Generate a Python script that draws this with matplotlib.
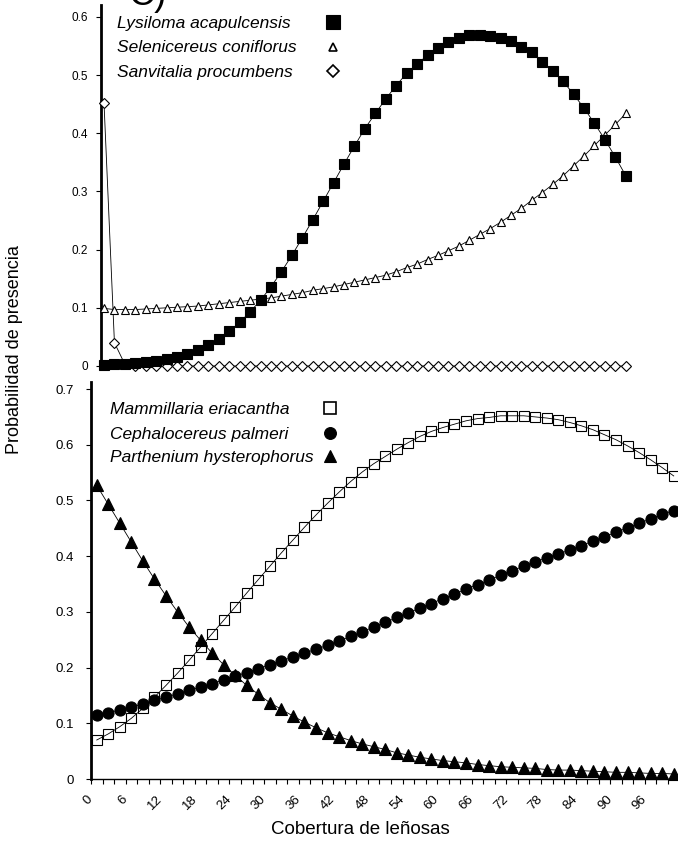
import numpy as np
import matplotlib.pyplot as plt
from matplotlib.lines import Line2D

plt.rcParams['font.family'] = ['Liberation Sans', 'DejaVu Sans']

# woody cover classes (%), one value per class
cobertura = np.arange(0, 101, 2)
x = cobertura + 1  # points sit in the middle of each class

lysiloma = [0.002, 0.003, 0.004, 0.005, 0.007, 0.009, 0.012, 0.016, 0.021, 0.028,
            0.036, 0.047, 0.060, 0.075, 0.093, 0.113, 0.136, 0.162, 0.190, 0.220,
            0.251, 0.283, 0.315, 0.347, 0.378, 0.408, 0.434, 0.459, 0.482, 0.503,
            0.519, 0.534, 0.546, 0.556, 0.563, 0.568, 0.569, 0.567, 0.563, 0.558,
            0.549, 0.539, 0.523, 0.507, 0.489, 0.467, 0.443, 0.417, 0.389, 0.359,
            0.327]
selenicereus = [0.099, 0.097, 0.097, 0.097, 0.098, 0.099, 0.100, 0.101, 0.102, 0.103,
                0.105, 0.107, 0.109, 0.111, 0.113, 0.115, 0.117, 0.120, 0.123, 0.126,
                0.130, 0.133, 0.136, 0.140, 0.144, 0.148, 0.152, 0.156, 0.162, 0.169,
                0.175, 0.183, 0.190, 0.198, 0.206, 0.216, 0.226, 0.236, 0.247, 0.259,
                0.271, 0.285, 0.298, 0.312, 0.327, 0.344, 0.361, 0.379, 0.397, 0.415,
                0.434]
sanvitalia = [0.452, 0.040, 0.003] + [0.0] * 48

mammillaria = [0.070, 0.081, 0.094, 0.109, 0.127, 0.147, 0.168, 0.190, 0.213, 0.237,
               0.261, 0.285, 0.309, 0.334, 0.358, 0.382, 0.406, 0.429, 0.452, 0.474,
               0.495, 0.515, 0.534, 0.551, 0.566, 0.579, 0.592, 0.604, 0.615, 0.624,
               0.631, 0.637, 0.643, 0.647, 0.649, 0.652, 0.652, 0.652, 0.650, 0.648,
               0.645, 0.640, 0.634, 0.627, 0.618, 0.609, 0.598, 0.586, 0.573, 0.559,
               0.544]
cephalocereus = [0.114, 0.119, 0.124, 0.129, 0.135, 0.141, 0.147, 0.153, 0.159, 0.165,
                 0.171, 0.178, 0.185, 0.191, 0.198, 0.205, 0.212, 0.219, 0.226, 0.233,
                 0.240, 0.248, 0.256, 0.264, 0.273, 0.281, 0.290, 0.298, 0.307, 0.315,
                 0.324, 0.332, 0.341, 0.349, 0.357, 0.366, 0.374, 0.382, 0.390, 0.397,
                 0.404, 0.411, 0.419, 0.427, 0.435, 0.443, 0.451, 0.459, 0.467, 0.475,
                 0.482]
parthenium = [0.527, 0.493, 0.459, 0.425, 0.391, 0.359, 0.329, 0.300, 0.273, 0.249,
              0.226, 0.205, 0.186, 0.168, 0.152, 0.137, 0.125, 0.113, 0.102, 0.092,
              0.083, 0.076, 0.069, 0.063, 0.058, 0.053, 0.047, 0.043, 0.039, 0.036,
              0.033, 0.031, 0.029, 0.026, 0.024, 0.022, 0.021, 0.020, 0.019, 0.017,
              0.016, 0.016, 0.015, 0.014, 0.013, 0.012, 0.012, 0.011, 0.010, 0.010,
              0.009]

nombres_sup = ['Lysiloma acapulcensis', 'Selenicereus coniflorus', 'Sanvitalia procumbens']
nombres_inf = ['Mammillaria eriacantha', 'Cephalocereus palmeri', 'Parthenium hysterophorus']

W, H = 678, 844
fig = plt.figure(figsize=(W / 100, H / 100), dpi=100)

ax1 = fig.add_axes([101 / W, 478 / H, 530 / W, 360.8 / H])
ax2 = fig.add_axes([91 / W, 65 / H, 588.5 / W, 396.9 / H])

line_kw = dict(color='black', lw=0.6, mew=0.8, mec='black', clip_on=False)

# upper panel
ax1.plot(x, sanvitalia, marker='D', ms=5.2, mfc='white', zorder=3, **line_kw)
ax1.plot(x, selenicereus, marker='^', ms=5.5, mfc='white', zorder=4, **line_kw)
ax1.plot(x, lysiloma, marker='s', ms=6.6, mfc='black', zorder=5, **line_kw)

# lower panel
ax2.plot(x, cephalocereus, marker='o', ms=8, mfc='black', zorder=3, **line_kw)
ax2.plot(x, mammillaria, marker='s', ms=7.8, mfc='none', zorder=4, **line_kw)
ax2.plot(x, parthenium, marker='^', ms=8, mfc='black', zorder=5, **line_kw)

ax1.set_xlim(0.425, 102)
ax1.set_ylim(0, 0.62)
ax2.set_xlim(0, 102)
ax2.set_ylim(0, 0.7125)

for ax in (ax1, ax2):
    ax.spines['top'].set_visible(False)
    ax.spines['right'].set_visible(False)
    ax.spines['left'].set_linewidth(2.0)
    ax.tick_params(axis='y', direction='out', length=3.5, width=0.8, pad=6)
ax1.spines['bottom'].set_visible(False)
ax2.spines['bottom'].set_linewidth(1.0)


def prob_label(v):
    return '0' if v == 0 else f'{v:.1f}'


yt1 = np.arange(0, 0.61, 0.1)
ax1.set_yticks(yt1)
ax1.set_yticklabels([prob_label(round(v, 1)) for v in yt1], fontsize=8.5)
ax1.set_xticks([])

yt2 = np.arange(0, 0.71, 0.1)
ax2.set_yticks(yt2)
ax2.set_yticklabels([prob_label(round(v, 1)) for v in yt2], fontsize=9.5)
ax2.tick_params(axis='y', pad=9)

limites = np.arange(0, 103, 2)
ax2.set_xticks(limites)
ax2.set_xticklabels([str(v) if v % 6 == 0 and v <= 96 else '' for v in limites],
                    rotation=45, ha='right', va='center', rotation_mode='anchor',
                    fontsize=9.5)
ax2.tick_params(axis='x', direction='out', length=3.5, width=0.8, pad=10)

# legends: names left-aligned, symbols in a column to the right
sym_sup = [dict(marker='s', ms=9.5, mfc='black', mew=0.8),
           dict(marker='^', ms=6, mfc='white', mew=1.2),
           dict(marker='D', ms=6.5, mfc='white', mew=1.2)]
sym_inf = [dict(marker='s', ms=9, mfc='white', mew=1.2),
           dict(marker='o', ms=8.5, mfc='black', mew=0.8),
           dict(marker='^', ms=8.5, mfc='black', mew=0.8)]


def leyenda(nombres, simbolos, x_txt, x_sym, y_filas):
    for nombre, sym, yc in zip(nombres, simbolos, y_filas):
        fig.text(x_txt / W, 1 - yc / H, nombre, style='italic', fontsize=12.5,
                 ha='left', va='center_baseline')
        fig.add_artist(Line2D([x_sym / W], [1 - yc / H], ls='none', mec='black',
                              transform=fig.transFigure, **sym))


leyenda(nombres_sup, sym_sup, 117, 333, [22, 46.5, 71])
leyenda(nombres_inf, sym_inf, 110, 330, [408, 432.5, 456])

fig.text(15 / W, 1 - 350 / H, 'Probabilidad de presencia', rotation=90,
         ha='center', va='center', fontsize=13)
fig.text(360 / W, 1 - 830 / H, 'Cobertura de leñosas', ha='center', va='center',
         fontsize=13.5)
fig.text(128 / W, 1 - 5 / H, 'C)', ha='left', va='baseline', fontsize=26)

fig.savefig('out.png', dpi=100)
